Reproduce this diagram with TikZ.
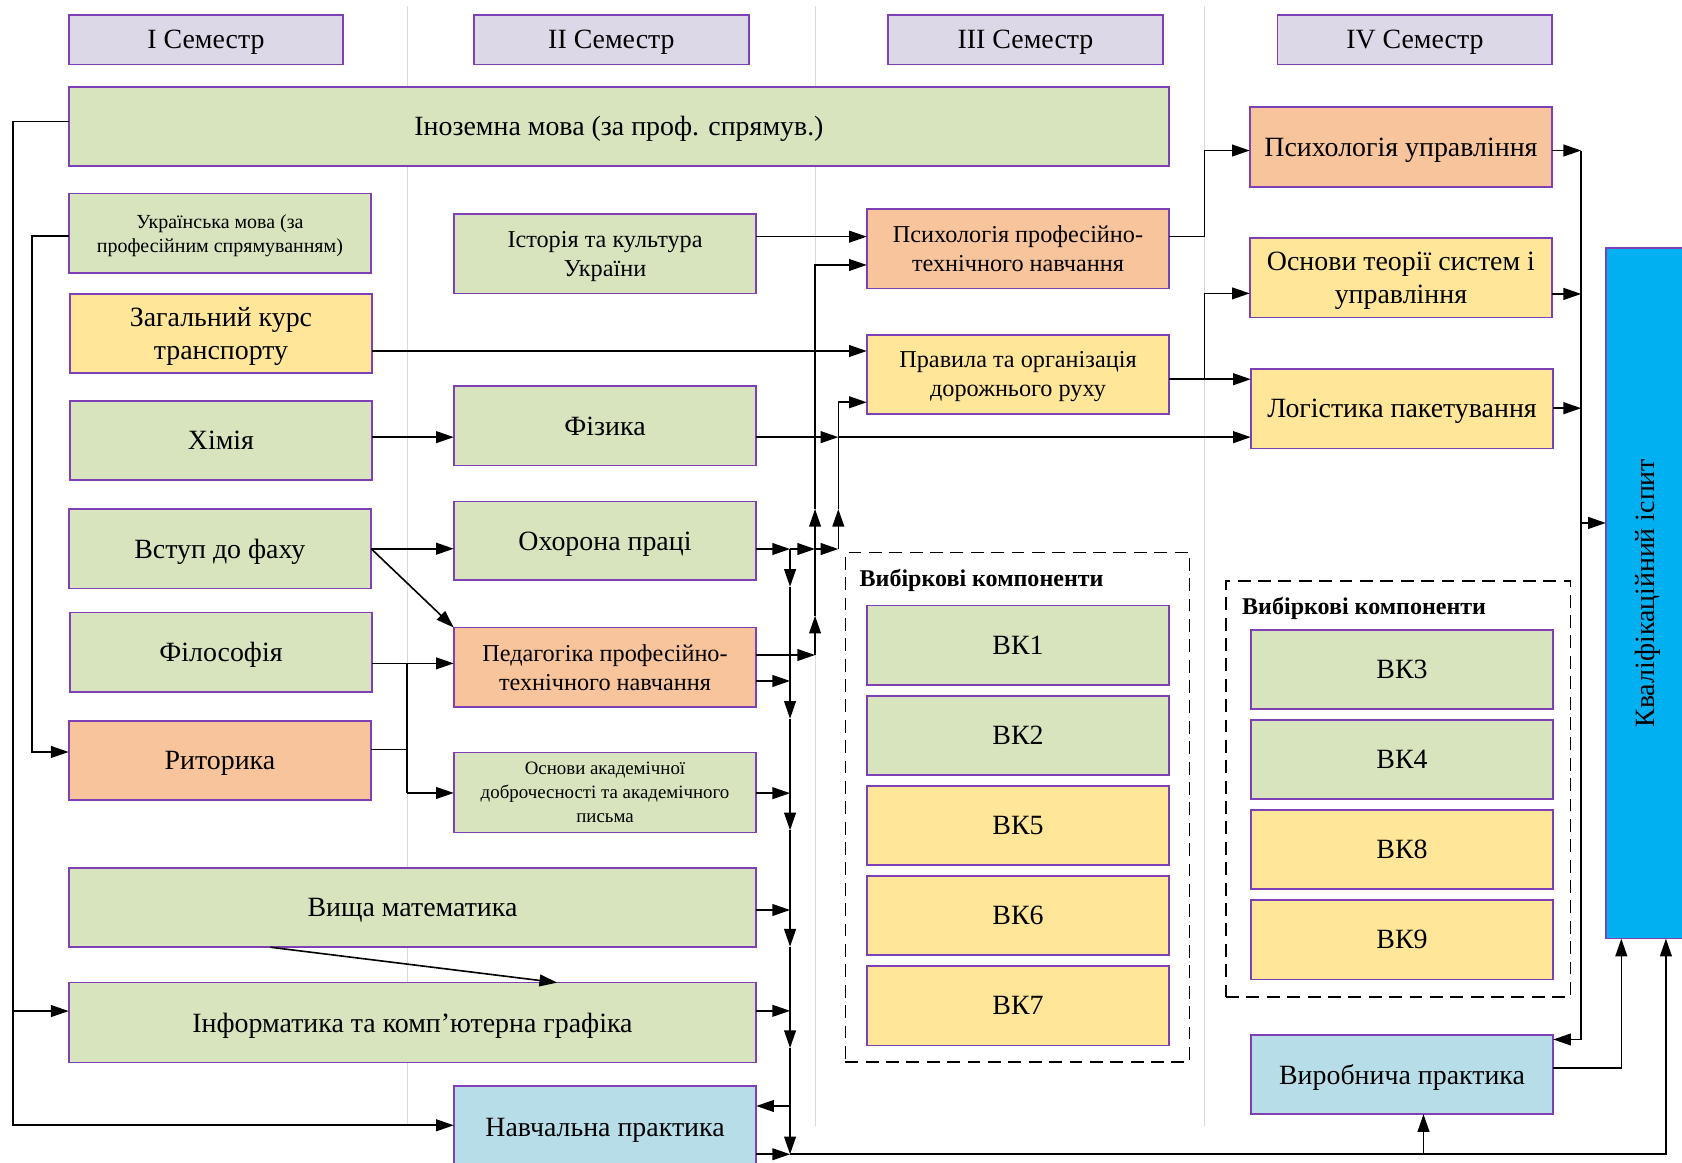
\documentclass[tikz,border=0pt]{standalone}
\usepackage{fontspec}
\setmainfont{Liberation Serif}
\usetikzlibrary{arrows.meta}
\definecolor{grn}{HTML}{D7E4BD}
\definecolor{yel}{HTML}{FFE699}
\definecolor{org}{HTML}{F8C49C}
\definecolor{lbl}{HTML}{B7DEE8}
\definecolor{lav}{HTML}{DDD8E8}
\definecolor{cyanq}{HTML}{00B0F0}
\definecolor{bord}{HTML}{7F3FB5}
\definecolor{sepc}{HTML}{D9D9D9}
\newcommand{\mybox}[7]{\node[bx,#6,minimum width={(#4-(#2))*0.5pt},minimum height={(#5-(#3))*0.5pt}] (#1) at ({(#2+#4)/2},{(#3+#5)/2}) {#7};}
\begin{document}
\begin{tikzpicture}[x=0.5pt,y=-0.5pt,
  bx/.style={draw=bord,line width=0.8pt,inner sep=0pt,outer sep=0pt,align=center,text depth=0pt},
  fbig/.style={font=\fontsize{13pt}{15.5pt}\selectfont},
  fmid/.style={font=\fontsize{11.3pt}{13.5pt}\selectfont},
  fukr/.style={font=\fontsize{9.3pt}{11pt}\selectfont},
  fosn/.style={font=\fontsize{8.8pt}{11.2pt}\selectfont},
  fbold/.style={font=\fontsize{11.2pt}{13pt}\selectfont\bfseries},
  dbox/.style={draw=black,dashed,dash pattern=on 6pt off 3.5pt,line width=0.7pt,fill=none},
  sep/.style={draw=sepc,line width=0.6pt},
  con/.style={line width=0.75pt},
  arr/.style={con,-{Triangle[length=8.25pt,width=5.5pt]}}]
\useasboundingbox (0,0) rectangle (1568,1084);
\fill[white] (0,0) rectangle (1568,1084);
\clip (0,0) rectangle (1568,1084);
% separators
\draw[sep] (380,6) -- (380,1050);
\draw[sep] (760,6) -- (760,1050);
\draw[sep] (1123,6) -- (1123,1050);
% headers
\mybox{h1}{64}{14}{320}{60}{fill=lav,fbig}{I Семестр}
\mybox{h2}{442}{14}{698}{60}{fill=lav,fbig}{II Семестр}
\mybox{h3}{828}{14}{1084}{60}{fill=lav,fbig}{III Семестр}
\mybox{h4}{1191}{14}{1447}{60}{fill=lav,fbig}{IV Семестр}
% column I
\mybox{inoz}{64}{81}{1090}{154.5}{fill=grn,fbig}{Іноземна мова (за проф. спрямув.)}
\mybox{ukr}{64}{180.5}{346}{254.5}{fill=grn,fukr}{Українська мова (за\\професійним спрямуванням)}
\mybox{zag}{65}{274}{347}{348}{fill=yel,fbig}{Загальний курс\\транспорту}
\mybox{khim}{65}{373.5}{347}{447.5}{fill=grn,fbig}{Хімія}
\mybox{vstup}{64}{474.5}{346}{548.5}{fill=grn,fbig}{Вступ до фаху}
\mybox{fil}{65}{571}{347}{645}{fill=grn,fbig}{Філософія}
\mybox{rit}{64}{672}{346}{746}{fill=org,fbig}{Риторика}
% column II
\mybox{ist}{423}{199.5}{705}{273.5}{fill=grn,fmid}{Історія та культура\\України}
\mybox{fiz}{423}{360}{705}{434}{fill=grn,fbig}{Фізика}
\mybox{oxp}{423}{467.5}{705}{541}{fill=grn,fbig}{Охорона праці}
\mybox{ped}{423}{585}{705}{659}{fill=org,fmid}{Педагогіка професійно-\\технічного навчання}
\mybox{osn}{423}{701.6}{705}{776}{fill=grn,fosn}{Основи академічної\\доброчесності та академічного\\письма}
\mybox{vyshch}{64}{809}{705}{883}{fill=grn,fbig}{Вища математика}
\mybox{inf}{64}{916}{705}{990.5}{fill=grn,fbig}{Інформатика та комп’ютерна графіка}
\mybox{nav}{423}{1012.4}{705}{1090}{fill=lbl,fbig}{Навчальна практика}
% column III
\mybox{psp}{808}{195}{1090}{269}{fill=org,fmid}{Психологія професійно-\\технічного навчання}
\mybox{prav}{808}{312}{1090}{386}{fill=yel,fmid}{Правила та організація\\дорожнього руху}
\mybox{vb1}{788}{515}{1109}{990}{dbox}{}
\node[fbold,anchor=west,inner sep=0pt,text depth=0pt] (vb1t) at (801,539) {Вибіркові компоненти};
\mybox{vk1}{808}{564.5}{1090}{638.5}{fill=grn,fbig}{ВК1}
\mybox{vk2}{808}{648.5}{1090}{722.5}{fill=grn,fbig}{ВК2}
\mybox{vk5}{808}{732.5}{1090}{806.5}{fill=yel,fbig}{ВК5}
\mybox{vk6}{808}{816.5}{1090}{890.5}{fill=yel,fbig}{ВК6}
\mybox{vk7}{808}{900.5}{1090}{974.5}{fill=yel,fbig}{ВК7}
% column IV
\mybox{psu}{1165}{100}{1447}{174}{fill=org,fbig}{Психологія управління}
\mybox{ost}{1165}{222}{1447}{296}{fill=yel,fbig}{Основи теорії систем і\\управління}
\mybox{log}{1166}{344}{1448}{418}{fill=yel,fbig}{Логістика пакетування}
\mybox{vb2}{1143}{541.6}{1464}{929.4}{dbox}{}
\node[fbold,anchor=west,inner sep=0pt,text depth=0pt] (vb2t) at (1157.6,565.2) {Вибіркові компоненти};
\mybox{vk3}{1166}{587}{1448}{661}{fill=grn,fbig}{ВК3}
\mybox{vk4}{1166}{671}{1448}{745}{fill=grn,fbig}{ВК4}
\mybox{vk8}{1166}{755}{1448}{829}{fill=yel,fbig}{ВК8}
\mybox{vk9}{1166}{839}{1448}{913}{fill=yel,fbig}{ВК9}
\mybox{vyr}{1166}{965}{1448}{1038.7}{fill=lbl,fbig}{Виробнича практика}
\mybox{kv}{1497}{231}{1572}{875}{fill=cyanq}{}
\node[fbig,rotate=90,inner sep=0pt,text depth=0pt] (kvt) at (1533,553) {Кваліфікаційний іспит};
% coordinates
\coordinate (L1t) at (12,113.4);
\coordinate (L1i) at (12,942.5);
\coordinate (L1b) at (12,1049);
\coordinate (L2t) at (30,220);
\coordinate (L2b) at (30,701);
\coordinate (P327) at (600,327.2);
\coordinate (Y407) at (400,407.5);
\coordinate (J618) at (379.5,618.4);
\coordinate (J698) at (379.5,698.6);
\coordinate (J739) at (379.5,739.2);
\coordinate (Y220) at (760,220.6);
\coordinate (B407) at (781.5,407.5);
\coordinate (C511) at (736.5,511.8);
\coordinate (A511) at (759.8,511.8);
\coordinate (B511) at (781.5,511.8);
\coordinate (B474) at (781.5,474.5);
\coordinate (B375) at (781.5,375);
\coordinate (A610) at (759.8,610.6);
\coordinate (A574) at (759.8,574);
\coordinate (A474) at (759.8,474.5);
\coordinate (A247) at (759.8,247);
\coordinate (C635) at (736.5,634.8);
\coordinate (C739) at (736.5,739.4);
\coordinate (C848) at (736.5,848.3);
\coordinate (C942) at (736.5,942.3);
\coordinate (C547) at (736.5,547);
\coordinate (C670) at (736.5,670);
\coordinate (C774) at (736.5,774);
\coordinate (C882) at (736.5,882.5);
\coordinate (C977) at (736.5,977);
\coordinate (C1031) at (736.5,1031);
\coordinate (Cbot) at (736.5,1076);
\coordinate (Kb2) at (1553,1076);
\coordinate (V1076) at (1327,1076);
\coordinate (Kb1) at (1511.4,995.6);
\coordinate (R140) at (1474,140.3);
\coordinate (R274) at (1474,274);
\coordinate (R380) at (1474,380.5);
\coordinate (R487) at (1474,487.5);
\coordinate (R969) at (1474,969);
\coordinate (X220) at (1123,220.3);
\coordinate (X140) at (1123,140.3);
\coordinate (X353) at (1123,353.5);
\coordinate (X274) at (1123,273.5);
\coordinate (D1) at (252,883);
\coordinate (D2) at (519.4,916);
% left buses
\draw[arr] (inoz.west |- L1t) -- (L1t) -- (L1b) -- (nav.west |- L1b);
\draw[arr] (L1i) -- (inf.west |- L1i);
\draw[arr] (ukr.west |- L2t) -- (L2t) -- (L2b) -- (rit.west |- L2b);
% column I to II/III
\draw[arr] (zag.east |- P327) -- (prav.west |- P327);
\draw[arr] (khim.east |- Y407) -- (fiz.west |- Y407);
\draw[arr] (vstup.east) -- (oxp.west |- vstup.east);
\draw[arr] (vstup.east) -- (ped.north west);
\draw[arr] (fil.east |- J618) -- (ped.west |- J618);
\draw[con] (rit.east |- J698) -- (J698);
\draw[con] (J618) -- (J739);
\draw[arr] (J739) -- (osn.west |- J739);
\draw[arr] (D1) -- (D2);
% column II to III
\draw[arr] (ist.east |- Y220) -- (psp.west |- Y220);
\draw[arr] (fiz.east |- B407) -- (B407);
\draw[arr] (B407) -- (log.west |- B407);
\draw[arr] (oxp.east |- C511) -- (C511);
\draw[arr] (C511) -- (A511);
\draw[arr] (A511) -- (B511);
\draw[arr] (B511) -- (B474);
\draw[arr] (B474) -- (B375) -- (prav.west |- B375);
\draw[arr] (ped.east |- A610) -- (A610);
\draw[arr] (A610) -- (A574);
\draw[arr] (A574) -- (A474);
\draw[arr] (A474) -- (A247) -- (psp.west |- A247);
\draw[arr] (ped.east |- C635) -- (C635);
\draw[arr] (osn.east |- C739) -- (C739);
\draw[arr] (vyshch.east |- C848) -- (C848);
\draw[arr] (inf.east |- C942) -- (C942);
% bus C
\draw[arr] (C511) -- (C547);
\draw[arr] (C547) -- (C670);
\draw[arr] (C670) -- (C774);
\draw[arr] (C774) -- (C882);
\draw[arr] (C882) -- (C977);
\draw[arr] (C977) -- (Cbot);
\draw[arr] (C1031) -- (nav.east |- C1031);
\draw[arr] (nav.east |- Cbot) -- (Cbot);
\draw[arr] (Cbot) -- (Kb2) -- (kv.south -| Kb2);
\draw[arr] (V1076) -- (vyr.south -| V1076);
% column III to IV
\draw[arr] (psp.east |- X220) -- (X220) -- (X140) -- (psu.west |- X140);
\draw[arr] (prav.east |- X353) -- (X353) -- (X274) -- (ost.west |- X274);
\draw[arr] (X353) -- (log.west |- X353);
% right bus
\draw[arr] (psu.east |- R140) -- (R140);
\draw[arr] (ost.east |- R274) -- (R274);
\draw[arr] (log.east |- R380) -- (R380);
\draw[arr] (R140) -- (R969) -- (vyr.east |- R969);
\draw[arr] (R487) -- (kv.west |- R487);
\draw[arr] (vyr.east |- Kb1) -- (Kb1) -- (kv.south -| Kb1);
\end{tikzpicture}
\end{document}
